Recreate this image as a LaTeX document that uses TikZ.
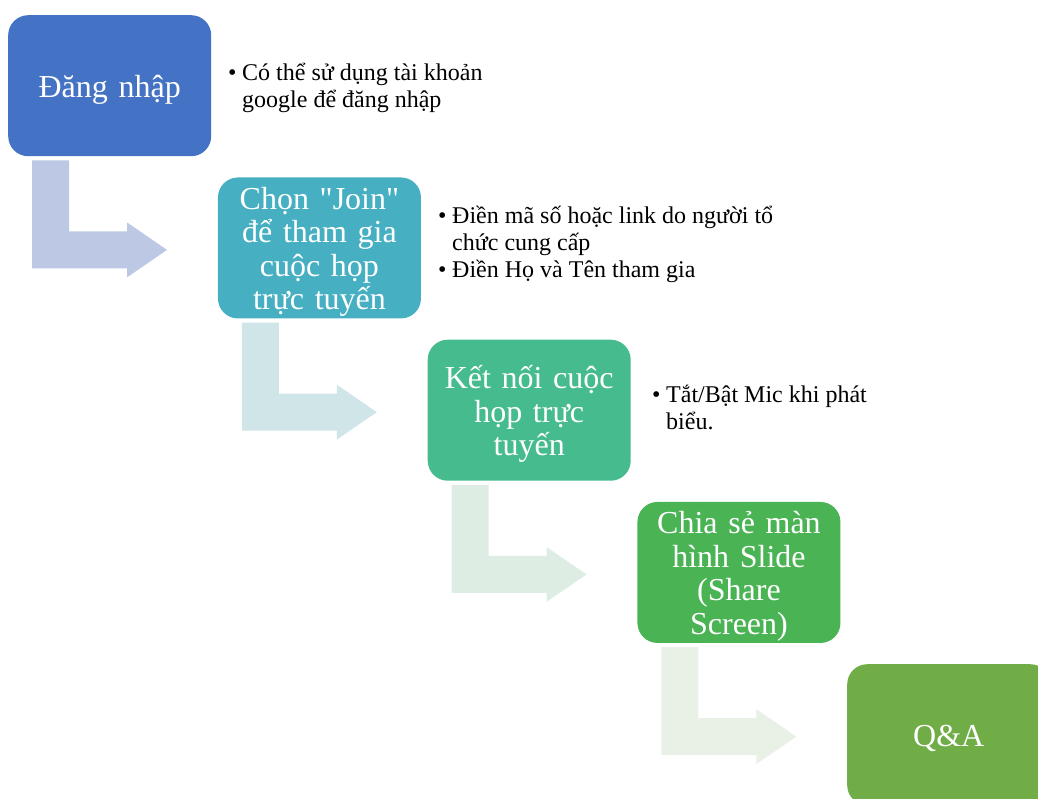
\documentclass[tikz,border=0pt]{standalone}
\usepackage{fontspec}
\setmainfont{Liberation Serif}[Ligatures=TeXOff]
\definecolor{cA}{HTML}{4472C4}
\definecolor{cB}{HTML}{46AFC2}
\definecolor{cC}{HTML}{46BC8E}
\definecolor{cD}{HTML}{4AB354}
\definecolor{cE}{HTML}{70AD47}
\definecolor{aA}{HTML}{BDC8E4}
\definecolor{aB}{HTML}{CFE5E8}
\definecolor{aC}{HTML}{DDEDE4}
\definecolor{aD}{HTML}{E9F0E6}
\begin{document}
\begin{tikzpicture}[x=1pt,y=-1pt,
  box/.style={fill=#1, rounded corners=20pt, minimum width=203pt, minimum height=141pt,
    inner sep=0pt, anchor=north west},
  boxtext/.style={text width=195pt, align=center, text=white, inner sep=0pt, yshift=-4pt,
    font=\fontsize{32}{33.5}\selectfont},
  note/.style={anchor=north west, inner sep=0pt, align=left, font=\fontsize{24}{26.8}\selectfont},
  pics/bentarrow/.style={code={
    \fill[#1] (24,4) -- (61,4) -- (61,75) -- (119,75) -- (119,66) -- (159,93.5)
      -- (119,121) -- (119,112) -- (24,112) -- cycle;}}
]
\useasboundingbox (0,0) rectangle (1038,798);
\clip (0,0) rectangle (1038,798);

\node[box=cA] (b1) at (8,15) {};
\node[box=cB] (b2) at (217.75,177.25) {};
\node[box=cC] (b3) at (427.5,339.5) {};
\node[box=cD] (b4) at (637.25,501.75) {};
\node[box=cE] (b5) at (847,664) {};

\node[boxtext] (l1) at (b1.center) {Đăng nhập};
\node[boxtext] (l2) at (b2.center) {Chọn "Join"\\để tham gia\\cuộc họp\\trực tuyến};
\node[boxtext] (l3) at (b3.center) {Kết nối cuộc\\họp trực\\tuyến};
\node[boxtext] (l4) at (b4.center) {Chia sẻ màn\\hình Slide\\(Share\\Screen)};
\node[boxtext] (l5) at (b5.center) {Q\&A};

\pic at (b1.south west) {bentarrow=aA};
\pic at (b2.south west) {bentarrow=aB};
\pic at (b3.south west) {bentarrow=aC};
\pic at (b4.south west) {bentarrow=aD};

\node[note] (n1) at (228,62) {\strut\makebox[14pt][l]{\textbullet}Có thể sử dụng tài khoản\\\hspace*{14pt}google để đăng nhập};
\node[note] (n2) at (438,205) {\strut\makebox[14pt][l]{\textbullet}Điền mã số hoặc link do người tổ\\\hspace*{14pt}chức cung cấp\\\makebox[14pt][l]{\textbullet}Điền Họ và Tên tham gia};
\node[note] (n3) at (652,384) {\strut\makebox[14pt][l]{\textbullet}Tắt/Bật Mic khi phát\\\hspace*{14pt}biểu.};
\end{tikzpicture}
\end{document}
